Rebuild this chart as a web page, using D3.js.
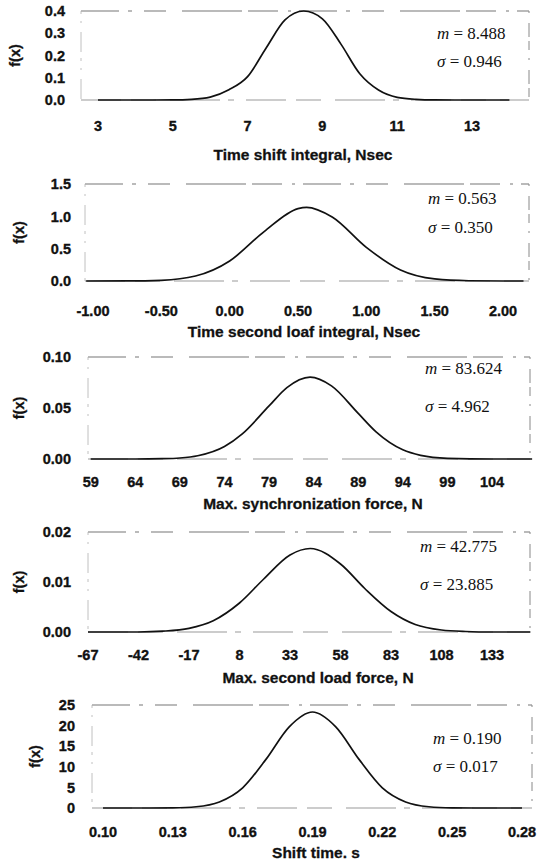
<!DOCTYPE html>
<html>
<head>
<meta charset="utf-8">
<script src="https://cdn.jsdelivr.net/npm/d3@7/dist/d3.min.js"></script>
<style>
  html, body { margin: 0; padding: 0; background: #fff; }
  svg { display: block; }
  .tick-label { font-family: "Liberation Sans", Arial, sans-serif; font-weight: bold; fill: #111; stroke: #111; stroke-width: 0.35; }
  .axis-title { font-family: "Liberation Sans", Arial, sans-serif; font-weight: bold; fill: #111; stroke: #111; stroke-width: 0.3; }
  .stat { font-family: "Liberation Serif", "Times New Roman", serif; fill: #111; }
</style>
</head>
<body>
<svg id="chart" width="544" height="861"></svg>
<script>
// ---------- data ----------
const titles = [
  "Time shift integral, Nsec",
  "Time second loaf integral, Nsec",
  "Max. synchronization force, N",
  "Max. second load force, N",
  "Shift time. s"
];
const meanLabels = ["8.488", "0.563", "83.624", "42.775", "0.190"];
const sigmaLabels = ["0.946", "0.350", "4.962", "23.885", "0.017"];

const xTicks1 = [3, 5, 7, 9, 11, 13];
const xTickText1 = ["3", "5", "7", "9", "11", "13"];
const yTicks1 = [0, 0.1, 0.2, 0.3, 0.4];
const yTickText1 = ["0.0", "0.1", "0.2", "0.3", "0.4"];
const curveX1 = [3, 4, 5, 5.5, 6, 6.5, 7, 7.5, 8, 8.5, 9, 9.5, 10, 10.5, 11, 11.5, 12, 13, 14];
const curveY1 = [0, 0, 0.0005, 0.003, 0.013, 0.046, 0.105, 0.235, 0.36, 0.40, 0.365, 0.25, 0.118, 0.045, 0.012, 0.003, 0.0005, 0, 0];

const xTicks2 = [-1, -0.5, 0, 0.5, 1, 1.5, 2];
const xTickText2 = ["-1.00", "-0.50", "0.00", "0.50", "1.00", "1.50", "2.00"];
const yTicks2 = [0, 0.5, 1.0, 1.5];
const yTickText2 = ["0.0", "0.5", "1.0", "1.5"];
const curveX2 = [-1.05, -0.75, -0.5, -0.25, 0, 0.25, 0.5, 0.563, 0.75, 1.0, 1.25, 1.5, 1.75, 2.0, 2.15];
const curveY2 = [0, 0.001, 0.011, 0.077, 0.31, 0.76, 1.12, 1.14, 0.99, 0.52, 0.17, 0.032, 0.004, 0, 0];

const xTicks3 = [59, 64, 69, 74, 79, 84, 89, 94, 99, 104];
const xTickText3 = ["59", "64", "69", "74", "79", "84", "89", "94", "99", "104"];
const yTicks3 = [0, 0.05, 0.10];
const yTickText3 = ["0.00", "0.05", "0.10"];
const curveX3 = [59, 64, 67, 69, 71, 74, 76, 79, 81, 83.6, 86, 89, 91, 94, 96, 99, 104, 108.5];
const curveY3 = [0, 0, 0.0003, 0.001, 0.0032, 0.0123, 0.0247, 0.052, 0.070, 0.0803, 0.0717, 0.0447, 0.0266, 0.009, 0.0036, 0.0007, 0, 0];

const xTicks4 = [-67, -42, -17, 8, 33, 58, 83, 108, 133];
const xTickText4 = ["-67", "-42", "-17", "8", "33", "58", "83", "108", "133"];
const yTicks4 = [0, 0.01, 0.02];
const yTickText4 = ["0.00", "0.01", "0.02"];
const curveX4 = [-67, -42, -30, -17, -5, 8, 20, 33, 43, 58, 70, 83, 95, 108, 120, 133, 152];
const curveY4 = [0, 0, 0.00016, 0.00073, 0.00226, 0.0058, 0.0106, 0.0154, 0.0167, 0.0136, 0.0087, 0.0041, 0.0015, 0.0004, 0.0001, 0, 0];

const xTicks5 = [0.10, 0.13, 0.16, 0.19, 0.22, 0.25, 0.28];
const xTickText5 = ["0.10", "0.13", "0.16", "0.19", "0.22", "0.25", "0.28"];
const yTicks5 = [0, 5, 10, 15, 20, 25];
const yTickText5 = ["0", "5", "10", "15", "20", "25"];
const curveX5 = [0.10, 0.12, 0.13, 0.14, 0.15, 0.16, 0.17, 0.18, 0.19, 0.20, 0.21, 0.22, 0.23, 0.24, 0.25, 0.26, 0.28];
const curveY5 = [0, 0.005, 0.05, 0.31, 1.47, 4.9, 11.8, 19.7, 23.3, 19.7, 11.8, 4.9, 1.47, 0.31, 0.05, 0.005, 0];

// ---------- layout (positions only) ----------
const layout = [
  { left: 81, right: 529, top: 11, bottom: 100, xd: [3, 13], xr: [98, 472], yd: [0, 0.4], yLabX: 65, fxX: 15, xLabY: 126, titleX: 303, titleY: 154, statX: 437, mY: 33, sY: 61 },
  { left: 85, right: 529, top: 184, bottom: 281, xd: [-1, 2], xr: [93, 503], yd: [0, 1.5], yLabX: 71, fxX: 19, xLabY: 311, titleX: 304, titleY: 331, statX: 428, mY: 198, sY: 227 },
  { left: 88, right: 530, top: 357, bottom: 459, xd: [59, 104], xr: [90.7, 492], yd: [0, 0.10], yLabX: 71, fxX: 19, xLabY: 482, titleX: 313, titleY: 503, statX: 425, mY: 368, sY: 406 },
  { left: 88, right: 530, top: 532, bottom: 632, xd: [-67, 133], xr: [88, 492], yd: [0, 0.02], yLabX: 71, fxX: 19, xLabY: 655, titleX: 318, titleY: 677, statX: 420, mY: 546, sY: 584 },
  { left: 92, right: 532, top: 705, bottom: 808, xd: [0.10, 0.28], xr: [103, 522], yd: [0, 25], yLabX: 75, fxX: 35, xLabY: 832, titleX: 316, titleY: 852, statX: 433, mY: 738, sY: 766 }
];

const panels = [
  { xt: xTicks1, xtt: xTickText1, yt: yTicks1, ytt: yTickText1, cx: curveX1, cy: curveY1 },
  { xt: xTicks2, xtt: xTickText2, yt: yTicks2, ytt: yTickText2, cx: curveX2, cy: curveY2 },
  { xt: xTicks3, xtt: xTickText3, yt: yTicks3, ytt: yTickText3, cx: curveX3, cy: curveY3 },
  { xt: xTicks4, xtt: xTickText4, yt: yTicks4, ytt: yTickText4, cx: curveX4, cy: curveY4 },
  { xt: xTicks5, xtt: xTickText5, yt: yTicks5, ytt: yTickText5, cx: curveX5, cy: curveY5 }
];

const svg = d3.select("#chart");

panels.forEach((p, i) => {
  const L = layout[i];
  const x = d3.scaleLinear().domain(L.xd).range(L.xr);
  const y = d3.scaleLinear().domain(L.yd).range([L.bottom, L.top]);
  const g = svg.append("g");

  // frame (scanned look: broken grey lines)
  const frame = g.append("g").attr("fill", "none");
  frame.append("line").attr("x1", L.left).attr("x2", L.right).attr("y1", L.top).attr("y2", L.top)
    .attr("stroke", "#777").attr("stroke-width", 1.1).attr("stroke-dasharray", "38,9,4,12,22,16,60,6,30,10,3,8");
  frame.append("line").attr("x1", L.right).attr("x2", L.right).attr("y1", L.top).attr("y2", L.bottom)
    .attr("stroke", "#888").attr("stroke-width", 1).attr("stroke-dasharray", "2,10,14,4,9,8");
  frame.append("line").attr("x1", L.left).attr("x2", L.left).attr("y1", L.top).attr("y2", L.bottom)
    .attr("stroke", "#b0b0b0").attr("stroke-width", 0.8).attr("stroke-dasharray", "3,7,2,9,20,6");
  frame.append("line").attr("x1", L.left).attr("x2", L.right).attr("y1", L.bottom).attr("y2", L.bottom)
    .attr("stroke", "#999").attr("stroke-width", 1).attr("stroke-dasharray", "40,10,25,14,50,8,6,12");

  // y tick labels
  g.selectAll(".ylab").data(p.yt).enter().append("text")
    .attr("class", "tick-label")
    .attr("x", L.yLabX).attr("y", d => y(d)).attr("dy", "0.36em")
    .attr("text-anchor", "end").attr("font-size", 14.5)
    .text((d, j) => p.ytt[j]);

  // x tick labels
  g.selectAll(".xlab").data(p.xt).enter().append("text")
    .attr("class", "tick-label")
    .attr("x", d => x(d)).attr("y", L.xLabY).attr("dy", "0.36em")
    .attr("text-anchor", "middle").attr("font-size", 14.5)
    .text((d, j) => p.xtt[j]);

  // axis titles
  g.append("text").attr("class", "axis-title")
    .attr("x", L.titleX).attr("y", L.titleY).attr("dy", "0.36em")
    .attr("text-anchor", "middle").attr("font-size", 15.5)
    .text(titles[i]);

  g.append("text").attr("class", "axis-title")
    .attr("transform", `translate(${L.fxX},${(L.top + L.bottom) / 2}) rotate(-90)`)
    .attr("dy", "0.36em").attr("text-anchor", "middle").attr("font-size", 14.5)
    .text("f(x)");

  // curve
  const pts = p.cx.map((v, j) => [v, p.cy[j]]);
  const line = d3.line().x(d => x(d[0])).y(d => y(d[1])).curve(d3.curveMonotoneX);
  g.append("path").datum(pts).attr("d", line)
    .attr("fill", "none").attr("stroke", "#111").attr("stroke-width", 1.7);

  // statistics
  const m = g.append("text").attr("class", "stat").attr("x", L.statX).attr("y", L.mY)
    .attr("dy", "0.35em").attr("font-size", 17);
  m.append("tspan").attr("font-style", "italic").text("m");
  m.append("tspan").text(" = " + meanLabels[i]);
  const s = g.append("text").attr("class", "stat").attr("x", L.statX).attr("y", L.sY)
    .attr("dy", "0.35em").attr("font-size", 17);
  s.append("tspan").attr("font-style", "italic").text("σ");
  s.append("tspan").text(" = " + sigmaLabels[i]);
});
</script>
</body>
</html>
